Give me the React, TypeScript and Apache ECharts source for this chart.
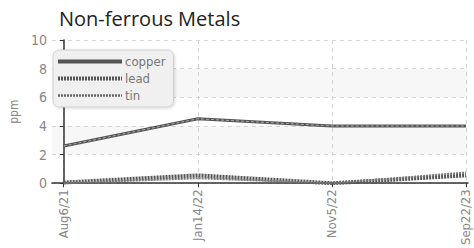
import React, { useEffect, useRef } from "react";
import * as echarts from "echarts";

const categories = ["Aug6/21", "Jan14/22", "Nov5/22", "Sep22/23"];
const copper = [2.6, 4.5, 4.0, 4.0];
const lead = [0.05, 0.55, 0.0, 0.55];
const tin = [0.0, 0.35, 0.0, 0.75];
const yTicks = [0, 2, 4, 6, 8, 10];

const FONT = "'DejaVu Sans Condensed', 'DejaVu Sans', sans-serif";

export default function App() {
  const ref = useRef<HTMLDivElement>(null);
  useEffect(() => {
    if (!ref.current) return;
    const chart = echarts.init(ref.current, null, { renderer: "svg" });
    const pts = (arr: number[]) => arr.map((v, i) => [i, v]);
    chart.setOption({
      animation: false,
      backgroundColor: "#ffffff",
      title: {
        text: "Non-ferrous Metals",
        left: 54,
        top: 3,
        textStyle: { fontFamily: "'Open Sans', sans-serif", fontSize: 20, fontWeight: "normal", color: "#222" },
      },
      legend: {
        orient: "vertical",
        left: 53,
        top: 50,
        itemWidth: 64,
        itemHeight: 8,
        itemGap: 4,
        padding: [5, 8, 5, 3],
        backgroundColor: "#f0f0f0",
        borderColor: "#d0d0d0",
        borderWidth: 1,
        borderRadius: 6,
        shadowBlur: 3,
        shadowColor: "rgba(0,0,0,0.15)",
        shadowOffsetX: 1,
        shadowOffsetY: 1,
        itemStyle: { opacity: 0 },
        textStyle: { fontFamily: FONT, fontSize: 13, color: "#777", padding: [0, 0, 0, -2] },
        data: [
          { name: "copper", lineStyle: { width: 4, color: "#555", type: "solid" } },
          { name: "lead", lineStyle: { width: 4, color: "#555", type: [2, 1] } },
          { name: "tin", lineStyle: { width: 2.5, color: "#666", type: [2, 1] } },
        ],
      },
      grid: { left: 44, right: 6, top: 40, bottom: 64 },
      xAxis: {
        type: "value",
        min: -0.088,
        max: 3.015,
        axisLine: { show: true, onZero: false, lineStyle: { color: "#333", width: 1.5 } },
        axisTick: { show: true, customValues: [0, 1, 2, 3], length: 4, lineStyle: { color: "#333" } },
        axisLabel: {
          customValues: [0, 1, 2, 3],
          rotate: 90,
          fontFamily: FONT,
          fontSize: 13,
          color: "#888",
          margin: 6,
          formatter: (v: number) => categories[Math.round(v)] ?? "",
        },
        splitLine: { show: true, lineStyle: { color: "#d4d4d4", type: [4, 4] } },
      },
      yAxis: {
        type: "value",
        min: 0,
        max: 10,
        interval: 2,
        name: "ppm",
        nameLocation: "middle",
        nameGap: 23,
        nameTextStyle: { fontFamily: FONT, fontSize: 12, color: "#888" },
        axisLine: { show: true, lineStyle: { color: "#333", width: 1.5 } },
        axisTick: { show: true, length: 4, lineStyle: { color: "#333" } },
        axisLabel: { fontFamily: FONT, fontSize: 14, color: "#888", margin: 5, formatter: (v: number) => (yTicks.includes(v) ? String(v) : "") },
        splitLine: { show: true, lineStyle: { color: "#d4d4d4", type: [4, 4] } },
        splitArea: { show: true, areaStyle: { color: ["rgba(255,255,255,0)", "#f7f7f7"] } },
      },
      series: [
        {
          name: "copper",
          type: "line",
          symbol: "none",
          data: pts(copper),
          lineStyle: { color: "#555", width: 3 },
          itemStyle: { color: "#555" },
          z: 3,
        },
        {
          name: "copper-inner",
          type: "line",
          symbol: "none",
          data: pts(copper),
          lineStyle: { color: "#aaa", width: 1, type: [3, 2] },
          silent: true,
          z: 4,
        },
        {
          name: "lead",
          type: "line",
          symbol: "none",
          data: pts(lead),
          lineStyle: { color: "#555", width: 4, type: [2, 1] },
          itemStyle: { color: "#555" },
          z: 2,
        },
        {
          name: "tin",
          type: "line",
          symbol: "none",
          data: pts(tin),
          lineStyle: { color: "#777", width: 2, type: [2, 1] },
          itemStyle: { color: "#777" },
          z: 2,
        },
      ],
    });
    return () => chart.dispose();
  }, []);
  return <div ref={ref} style={{ width: 474, height: 248, position: "absolute", left: 0, top: 0 }} />;
}
